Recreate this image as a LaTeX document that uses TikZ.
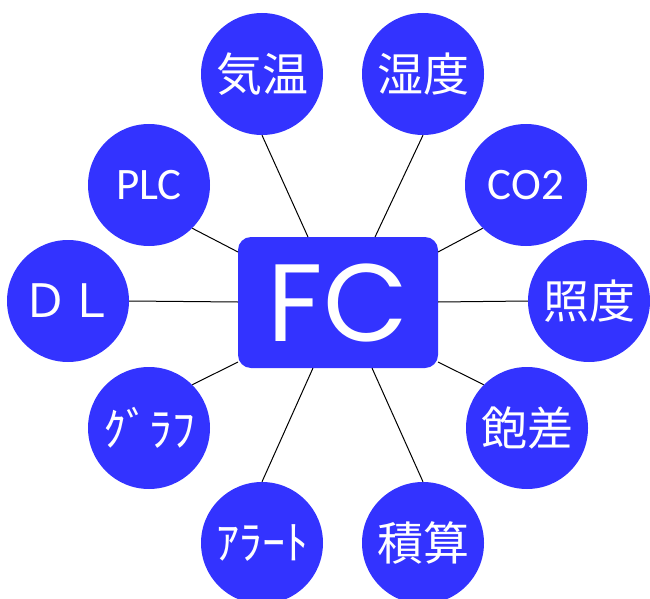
\documentclass[tikz,border=0pt]{standalone}
\usepackage{fontspec}
\newfontfamily\jp{Noto Sans CJK JP}
\newfontfamily\lat{Carlito}
\newfontfamily\fcfont{Poppins}
\definecolor{nodeblue}{RGB}{51,51,255}
\begin{document}
\begin{tikzpicture}[x=1pt,y=-1pt,
  bubble/.style={circle,fill=nodeblue,draw=none,minimum size=122pt,inner sep=0pt,text=white,font=\jp\fontsize{46}{46}\selectfont},
  latbubble/.style={bubble,font=\lat\fontsize{45}{45}\selectfont},
  hub/.style={rectangle,rounded corners=13pt,fill=nodeblue,draw=none,minimum width=200pt,minimum height=131pt,inner sep=0pt,text=white,font=\fcfont\fontsize{110}{110}\selectfont},
  link/.style={draw=black,line width=1pt}]
\useasboundingbox (0,0) rectangle (650,599);
\node[hub] (fc) at (338,302.5) {FC};
\node[bubble] (kion) at (262,74) {\raisebox{2pt}{気温}};
\node[bubble] (shitsudo) at (423,74) {\raisebox{2pt}{湿度}};
\node[latbubble] (plc) at (149,185) {PLC};
\node[latbubble] (co2) at (526,185) {CO2};
\node[bubble] (dl) at (68,301) {ＤＬ};
\node[bubble] (shodo) at (589,301) {\raisebox{2pt}{照度}};
\node[bubble] (graph) at (149,428) {\raisebox{2pt}{ｸﾞﾗﾌ}};
\node[bubble] (hosa) at (527,428) {\raisebox{2pt}{飽差}};
\node[bubble] (alert) at (262,543) {\raisebox{2pt}{ｱﾗｰﾄ}};
\node[bubble] (sekisan) at (423,543) {\raisebox{2pt}{積算}};
\coordinate (t1) at (308,237);
\coordinate (t2) at (375,237);
\coordinate (l1) at (238,252);
\coordinate (l2) at (238,302);
\coordinate (l3) at (238,362);
\coordinate (r1) at (438,252);
\coordinate (r2) at (438,302);
\coordinate (r3) at (438,362);
\coordinate (b1) at (313,368);
\coordinate (b2) at (372,368);
\draw[link] (kion.south) -- (t1);
\draw[link] (shitsudo.south) -- (t2);
\draw[link] (plc.south east) -- (l1);
\draw[link] (dl.east) -- (l2);
\draw[link] (graph.north east) -- (l3);
\draw[link] (co2.south west) -- (r1);
\draw[link] (shodo.west) -- (r2);
\draw[link] (hosa.north west) -- (r3);
\draw[link] (alert.north) -- (b1);
\draw[link] (sekisan.north) -- (b2);
\end{tikzpicture}
\end{document}
